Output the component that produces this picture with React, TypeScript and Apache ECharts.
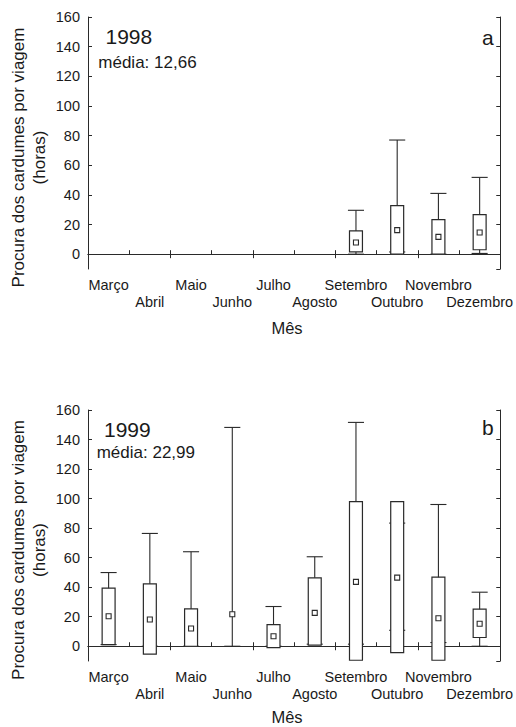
import React, { useEffect, useRef } from "react";
import * as echarts from "echarts";

// Months on the category axis
const months = [
  "Março", "Abril", "Maio", "Junho", "Julho",
  "Agosto", "Setembro", "Outubro", "Novembro", "Dezembro",
];

// 1998 — no trips from March to August ('-' = no data)
const mean1998 = ["-", "-", "-", "-", "-", "-", 7.9, 16.2, 11.7, 14.6];
const boxLow1998 = ["-", "-", "-", "-", "-", "-", 1.5, 0, 0, 3];
const boxHigh1998 = ["-", "-", "-", "-", "-", "-", 15.7, 32.8, 23.3, 26.7];
const min1998 = ["-", "-", "-", "-", "-", "-", 0, 1.5, 0, 0.5];
const max1998 = ["-", "-", "-", "-", "-", "-", 29.6, 77, 41, 51.8];

// 1999
const mean1999 = [20.3, 18.1, 12.0, 21.7, 6.8, 22.6, 43.6, 46.5, 19.0, 15.2];
const boxLow1999 = [1.1, -5.4, 0, "-", -0.9, 0.7, -9.5, -4.3, -9.5, 5.9];
const boxHigh1999 = [39.3, 42.3, 25.3, "-", 14.7, 46.3, 98, 98, 46.8, 25.1];
const min1999 = [1.1, 0, 0, 0, 0, 1.4, 1.4, 10.8, 2.5, 0];
const max1999 = [49.9, 76.4, 64, 148.2, 26.9, 60.6, 151.6, 83.4, 96, 36.6];

const panelYear = ["1998", "1999"];
const panelMean = ["média: 12,66", "média: 22,99"];
const panelLetter = ["a", "b"];

const yMin = -10;
const yMax = 160;

const FONT = "'Liberation Sans', Arial, sans-serif";
const INK = "#1a1a1a";
const LINE = "#2a2a2a";

// grid boxes (px) for the two panels
const grids = [
  { left: 88, top: 17, width: 414, height: 252 },
  { left: 88, top: 410, width: 414, height: 251 },
];

function rows(mean: any[], lo: any[], hi: any[], mn: any[], mx: any[]) {
  return months
    .map((_, i) => [i, mean[i], lo[i], hi[i], mn[i], mx[i]])
    .filter((r) => r[1] !== "-");
}

function renderBox(_params: any, api: any) {
  const idx = api.value(0);
  const mean = api.value(1);
  const lo = api.value(2);
  const hi = api.value(3);
  const wmin = api.value(4);
  const wmax = api.value(5);
  const band = api.size([1, 0])[0];
  const boxHalf = band * 0.157;
  const capHalf = band * 0.195;
  const cx = api.coord([idx, mean])[0];
  const y = (v: number) => api.coord([idx, v])[1];
  const stroke = { stroke: LINE, lineWidth: 1.1, fill: null };
  const children: any[] = [
    {
      type: "line",
      shape: { x1: cx, y1: y(wmin), x2: cx, y2: y(wmax) },
      style: stroke,
    },
    {
      type: "line",
      shape: { x1: cx - capHalf, y1: y(wmax), x2: cx + capHalf, y2: y(wmax) },
      style: stroke,
    },
    {
      type: "line",
      shape: { x1: cx - capHalf, y1: y(wmin), x2: cx + capHalf, y2: y(wmin) },
      style: stroke,
    },
  ];
  if (!isNaN(lo) && !isNaN(hi)) {
    children.push({
      type: "rect",
      shape: { x: cx - boxHalf, y: y(hi), width: boxHalf * 2, height: y(lo) - y(hi) },
      style: { stroke: LINE, lineWidth: 1.2, fill: "#ffffff" },
    });
  }
  const ym = y(mean);
  children.push({
    type: "rect",
    shape: { x: cx - 2.5, y: ym - 2.5, width: 5, height: 5 },
    style: { stroke: LINE, lineWidth: 1.1, fill: "#ffffff" },
  });
  return { type: "group", children };
}

export default function App() {
  const ref = useRef<HTMLDivElement>(null);

  useEffect(() => {
    if (!ref.current) return;
    const chart = echarts.init(ref.current, null, { renderer: "svg" });

    const axisLine = { show: true, lineStyle: { color: LINE, width: 1 } };
    const tick = { show: true, inside: true, length: 4, lineStyle: { color: LINE, width: 1 } };

    const xAxis: any[] = [];
    const yAxis: any[] = [];
    grids.forEach((_, g) => {
      xAxis.push({
        type: "category",
        gridIndex: g,
        data: months,
        boundaryGap: true,
        axisLine,
        axisTick: tick,
        axisLabel: {
          interval: 0,
          fontSize: 14.5,
          fontFamily: FONT,
          color: INK,
          lineHeight: 17,
          margin: 7,
          formatter: (v: string, i: number) => (i % 2 ? "\n" + v : v),
        },
      });
      xAxis.push({
        type: "category",
        gridIndex: g,
        position: "top",
        data: months,
        boundaryGap: true,
        axisLine,
        axisTick: tick,
        axisLabel: { show: false },
      });
      yAxis.push({
        type: "value",
        gridIndex: g,
        min: yMin,
        max: yMax,
        splitNumber: 8,
        splitLine: { show: false },
        axisLine,
        axisTick: tick,
        axisLabel: {
          fontSize: 14.5,
          fontFamily: FONT,
          color: INK,
          margin: 8,
          showMinLabel: false,
          formatter: (v: number) => (v < 0 ? "" : String(v)),
        },
      });
      yAxis.push({
        type: "value",
        gridIndex: g,
        position: "right",
        min: yMin,
        max: yMax,
        splitNumber: 8,
        splitLine: { show: false },
        axisLine,
        axisTick: tick,
        axisLabel: { show: false },
      });
    });

    const data = [
      rows(mean1998, boxLow1998, boxHigh1998, min1998, max1998),
      rows(mean1999, boxLow1999, boxHigh1999, min1999, max1999),
    ];

    const series = data.map((d, g) => ({
      type: "custom",
      xAxisIndex: g * 2,
      yAxisIndex: g * 2,
      renderItem: renderBox,
      encode: { x: 0, y: [1, 2, 3, 4, 5] },
      data: d,
      clip: false,
      z: 5,
    }));

    const graphic: any[] = [];
    grids.forEach((gr, g) => {
      const bottom = gr.top + gr.height;
      graphic.push({
        type: "text",
        x: 28.5,
        y: gr.top + gr.height / 2 + 14.5,
        rotation: Math.PI / 2,
        style: {
          text: "Procura dos cardumes por viagem\n(horas)",
          fontSize: 17,
          lineHeight: 21,
          fontFamily: FONT,
          fill: INK,
          align: "center",
          verticalAlign: "middle",
        },
      });
      graphic.push({
        type: "text",
        x: 287,
        y: bottom + (g === 0 ? 59 : 55.5),
        style: {
          text: "Mês",
          fontSize: 16.5,
          fontFamily: FONT,
          fill: INK,
          align: "center",
          verticalAlign: "middle",
        },
      });
      graphic.push({
        type: "text",
        x: g === 0 ? 105.5 : 104,
        y: gr.top + (g === 0 ? 19 : 19.3),
        style: {
          text: panelYear[g],
          fontSize: 21,
          fontFamily: FONT,
          fill: INK,
          align: "left",
          verticalAlign: "middle",
        },
      });
      graphic.push({
        type: "text",
        x: g === 0 ? 98.3 : 96.7,
        y: gr.top + (g === 0 ? 45.3 : 42.3),
        style: {
          text: panelMean[g],
          fontSize: 17,
          fontFamily: FONT,
          fill: INK,
          align: "left",
          verticalAlign: "middle",
        },
      });
      graphic.push({
        type: "text",
        x: 482,
        y: gr.top + (g === 0 ? 20.6 : 17),
        style: {
          text: panelLetter[g],
          fontSize: 21,
          fontFamily: FONT,
          fill: INK,
          align: "left",
          verticalAlign: "middle",
        },
      });
    });

    chart.setOption({
      animation: false,
      backgroundColor: "#ffffff",
      grid: grids.map((g) => ({ ...g, containLabel: false })),
      xAxis,
      yAxis,
      series,
      graphic,
    });

    return () => chart.dispose();
  }, []);

  return (
    <div
      ref={ref}
      style={{ position: "absolute", left: 0, top: 0, width: 516, height: 727 }}
    />
  );
}
